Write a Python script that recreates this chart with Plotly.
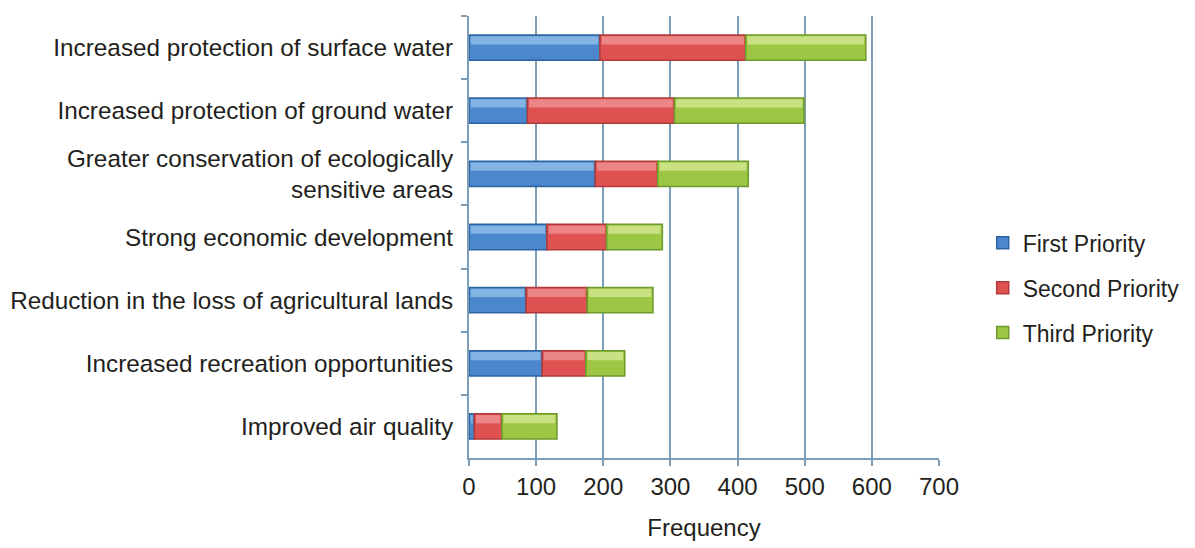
import numpy as np
import plotly.graph_objects as go

categories = [
    "Increased protection of surface water",
    "Increased protection of ground water",
    "Greater conservation of ecologically<br>sensitive areas",
    "Strong economic development",
    "Reduction in the loss of agricultural lands",
    "Increased recreation opportunities",
    "Improved air quality",
]
first_priority = [195, 87, 188, 116, 85, 109, 8]
second_priority = [217, 219, 93, 89, 91, 65, 41]
third_priority = [179, 193, 135, 83, 98, 58, 82]
series_names = ["First Priority", "Second Priority", "Third Priority"]
x_ticks = [0, 100, 200, 300, 400, 500, 600, 700]

fills = ["#4a87cc", "#e05252", "#9cc644"]
edges = ["#2c64a0", "#b13939", "#6d9a2c"]
shines = ["#b4d8f5", "#f6b0b0", "#eef8b8"]

FONT = "Liberation Sans, Arial, sans-serif"
TXT = "#231f20"
AXIS_COL = "#7c9eb9"

fig = go.Figure()
series = [first_priority, second_priority, third_priority]
base = np.zeros(len(categories))
for i, (name, vals, fc, ec, sc) in enumerate(zip(series_names, series, fills, edges, shines)):
    vals = np.array(vals, dtype=float)
    fig.add_trace(go.Bar(
        y=categories, x=vals, base=base, orientation="h", name=name,
        legendgroup=f"g{i}",
        width=0.4, marker=dict(color=fc, line=dict(color=ec, width=1.5)),
    ))
    # soft glossy band across the upper part of each segment
    fig.add_trace(go.Bar(
        y=categories, x=np.maximum(vals - 5, 0), base=base + 2.5, orientation="h",
        width=0.13, offset=-0.18, showlegend=False, hoverinfo="skip",
        legendgroup=f"g{i}",
        marker=dict(color=sc, opacity=0.55, line=dict(width=0)),
    ))
    base = base + vals

fig.update_layout(
    width=1195, height=548,
    barmode="overlay",
    paper_bgcolor="white", plot_bgcolor="white",
    margin=dict(l=469, r=256, t=16, b=90, autoexpand=False),
    font=dict(family=FONT, size=24, color=TXT),
    legend=dict(
        x=1.093, y=0.385, xanchor="left", yanchor="middle",
        font=dict(family=FONT, size=23, color=TXT),
        tracegroupgap=12, itemwidth=30,
    ),
    xaxis=dict(
        range=[0, 700], tickvals=x_ticks, ticktext=[str(t) for t in x_ticks],
        showgrid=True, gridcolor=AXIS_COL, gridwidth=2,
        showline=True, linecolor=AXIS_COL, linewidth=2,
        ticks="outside", ticklen=6, tickcolor=AXIS_COL, tickwidth=2,
        zeroline=False,
        tickfont=dict(family=FONT, size=24, color=TXT),
        title=dict(text="Frequency", standoff=20,
                   font=dict(family=FONT, size=24, color=TXT)),
    ),
    yaxis=dict(
        categoryorder="array", categoryarray=categories,
        autorange="reversed",
        showline=True, linecolor=AXIS_COL, linewidth=2,
        ticks="outside", ticklen=6, tickcolor=AXIS_COL, tickwidth=1.5,
        tickson="boundaries", showgrid=False,
        tickfont=dict(family=FONT, size=24.3, color=TXT),
        ticklabelstandoff=9,
    ),
)

fig.write_html("out.html")
